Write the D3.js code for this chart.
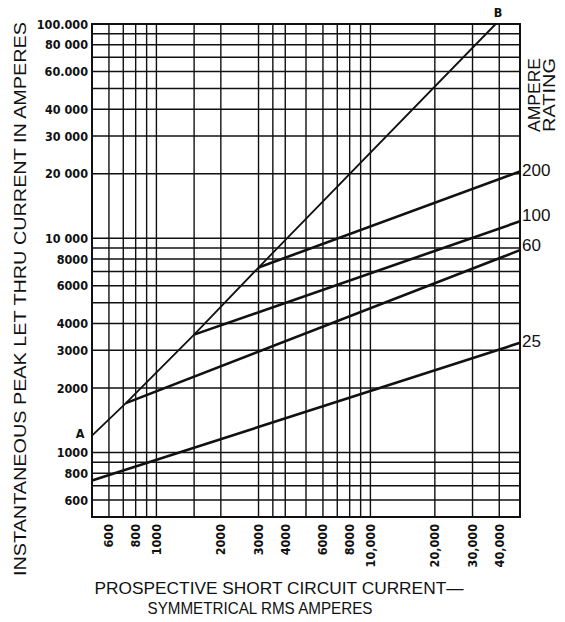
<!DOCTYPE html>
<meta charset="utf-8">
<script src="https://d3js.org/d3.v7.min.js"></script>
<style>
  body { margin: 0; background: #fff; }
  .tick-lab { font-family: "DejaVu Sans Condensed", "DejaVu Sans"; font-weight: bold; font-size: 12.5px; fill: #111; }
  .title { font-family: "Liberation Sans", Arial; fill: #111; }
</style>
<div id="my_dataviz"></div>
<script>
// grid values (log-log paper)
var xGrid = [600, 700, 800, 900, 1000, 1500, 2000, 3000, 3500, 4000, 5000, 6000, 7000, 8000, 9000, 10000, 20000, 30000, 40000];
var yGrid = [600, 700, 800, 900, 1000, 2000, 3000, 4000, 5000, 6000, 7000, 8000, 9000, 10000, 20000, 30000, 40000, 50000, 60000, 70000, 80000, 90000];

// tick labels
var xTicks = [600, 800, 1000, 2000, 3000, 4000, 6000, 8000, 10000, 20000, 30000, 40000];
var xTickLabels = ["600", "800", "1000", "2000", "3000", "4000", "6000", "8000", "10,000", "20,000", "30,000", "40,000"];
var yTicks = [100000, 80000, 60000, 40000, 30000, 20000, 10000, 8000, 6000, 4000, 3000, 2000, 1000, 800, 600];
var yTickLabels = ["100.000", "80 000", "60.000", "40 000", "30 000", "20 000", "10 000", "8000", "6000", "4000", "3000", "2000", "1000", "800", "600"];

// curves: [prospective rms amps, peak let-thru amps]
var lineAB = [[500, 1200], [720, 1700], [1500, 3550], [3000, 7300], [38500, 100000]];
var amp200 = [[3000, 7300], [50000, 20500]];
var amp100 = [[1500, 3550], [50000, 12000]];
var amp60 = [[720, 1700], [50000, 8800]];
var amp25 = [[500, 740], [50000, 3250]];
var ratings = ["200", "100", "60", "25"];

var W = 565, H = 622;
var pLeft = 92, pRight = 520, pTop = 24, pBottom = 517;

var svg = d3.select("#my_dataviz")
  .append("svg")
    .attr("width", W)
    .attr("height", H);

var x = d3.scaleLog().domain([500, 50000]).range([pLeft, pRight]);
var y = d3.scaleLog().domain([500, 100000]).range([pBottom, pTop]);

// grid
svg.append("g")
  .selectAll("line")
  .data(xGrid)
  .enter()
  .append("line")
    .attr("x1", d => x(d)).attr("x2", d => x(d))
    .attr("y1", pTop).attr("y2", pBottom)
    .attr("stroke", "#111").attr("stroke-width", 1.4);

svg.append("g")
  .selectAll("line")
  .data(yGrid)
  .enter()
  .append("line")
    .attr("x1", pLeft).attr("x2", pRight)
    .attr("y1", d => y(d)).attr("y2", d => y(d))
    .attr("stroke", "#111").attr("stroke-width", 1.4);

svg.append("rect")
  .attr("x", pLeft).attr("y", pTop)
  .attr("width", pRight - pLeft).attr("height", pBottom - pTop)
  .attr("fill", "none").attr("stroke", "#111").attr("stroke-width", 2);

// y tick labels
svg.append("g")
  .selectAll("text")
  .data(yTicks)
  .enter()
  .append("text")
    .attr("class", "tick-lab")
    .attr("x", pLeft - 4)
    .attr("y", d => y(d))
    .attr("dy", "0.36em")
    .attr("text-anchor", "end")
    .text((d, i) => yTickLabels[i]);

// x tick labels (rotated)
svg.append("g")
  .selectAll("text")
  .data(xTicks)
  .enter()
  .append("text")
    .attr("class", "tick-lab")
    .attr("transform", d => "translate(" + x(d) + "," + (pBottom + 7) + ") rotate(-90)")
    .attr("dy", "0.36em")
    .attr("text-anchor", "end")
    .text((d, i) => xTickLabels[i]);

// curves
var line = d3.line()
  .x(d => x(d[0]))
  .y(d => y(d[1]));

svg.append("path")
  .datum(lineAB)
  .attr("d", line)
  .attr("fill", "none").attr("stroke", "#111").attr("stroke-width", 1.8);

var fuses = [amp200, amp100, amp60, amp25];
svg.append("g")
  .selectAll("path")
  .data(fuses)
  .enter()
  .append("path")
    .attr("d", line)
    .attr("fill", "none").attr("stroke", "#111").attr("stroke-width", 2.6);

// rating labels at right end
svg.append("g")
  .selectAll("text")
  .data(fuses)
  .enter()
  .append("text")
    .attr("class", "title")
    .attr("x", pRight + 2)
    .attr("y", (d, i) => y(d[d.length - 1][1]) + (i == 1 ? -6 : (i == 2 ? -5 : -2)))
    .attr("dy", "0.36em")
    .attr("font-size", "17px")
    .text((d, i) => ratings[i]);

svg.append("text")
  .attr("class", "title")
  .attr("transform", "translate(540,95) rotate(-90)")
  .attr("text-anchor", "middle")
  .attr("font-size", "16px")
  .attr("textLength", 74).attr("lengthAdjust", "spacingAndGlyphs")
  .text("AMPERE");
svg.append("text")
  .attr("class", "title")
  .attr("transform", "translate(555,95) rotate(-90)")
  .attr("text-anchor", "middle")
  .attr("font-size", "16px")
  .attr("textLength", 74).attr("lengthAdjust", "spacingAndGlyphs")
  .text("RATING");

// A and B end labels
svg.append("text")
  .attr("class", "tick-lab")
  .attr("x", 80).attr("y", 438)
  .attr("text-anchor", "middle")
  .attr("font-size", "14px")
  .text("A");
svg.append("text")
  .attr("class", "tick-lab")
  .attr("x", 498).attr("y", 17)
  .attr("text-anchor", "middle")
  .attr("font-size", "13px")
  .text("B");

// axis titles
svg.append("text")
  .attr("class", "title")
  .attr("transform", "translate(26,299) rotate(-90)")
  .attr("text-anchor", "middle")
  .attr("font-size", "16.5px")
  .attr("textLength", 554).attr("lengthAdjust", "spacingAndGlyphs")
  .text("INSTANTANEOUS PEAK LET THRU CURRENT IN AMPERES");

svg.append("text")
  .attr("class", "title")
  .attr("x", 279).attr("y", 594)
  .attr("text-anchor", "middle")
  .attr("font-size", "16.5px")
  .attr("textLength", 369).attr("lengthAdjust", "spacingAndGlyphs")
  .text("PROSPECTIVE SHORT CIRCUIT CURRENT\u2014");
svg.append("text")
  .attr("class", "title")
  .attr("x", 260).attr("y", 614)
  .attr("text-anchor", "middle")
  .attr("font-size", "16.5px")
  .attr("textLength", 225).attr("lengthAdjust", "spacingAndGlyphs")
  .text("SYMMETRICAL RMS AMPERES");
</script>
